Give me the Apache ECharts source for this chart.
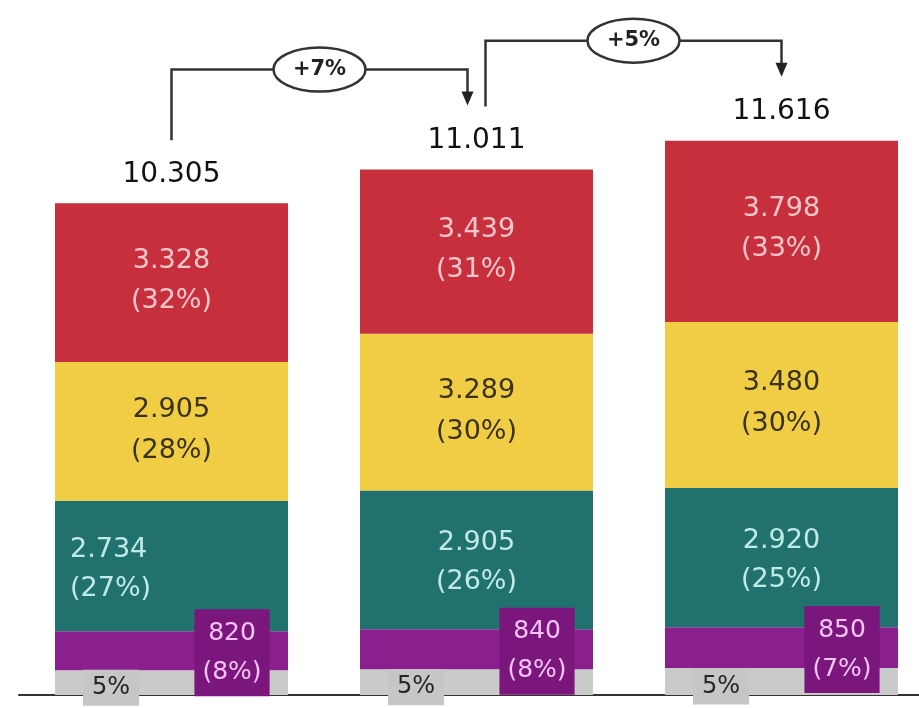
<!DOCTYPE html>
<html><head><meta charset="utf-8">
<script src="https://cdn.jsdelivr.net/npm/echarts@6/dist/echarts.min.js"></script>
<style>html,body{margin:0;padding:0;background:#fff}#c{width:919px;height:708px}</style>
</head><body><div id="c"></div>
<script>
const categories = ['2019', '2020', '2021'];
const gray = [518, 538, 568];
const purple = [820, 840, 850];
const teal = [2734, 2905, 2920];
const yellow = [2905, 3289, 3480];
const red = [3328, 3439, 3798];
const totals = [10305, 11011, 11616];
const grayPct = ['5%', '5%', '5%'];
const purplePct = ['8%', '8%', '7%'];
const tealPct = ['27%', '26%', '25%'];
const yellowPct = ['28%', '30%', '30%'];
const redPct = ['32%', '31%', '33%'];
const growth = ['+7%', '+5%'];

function fmt(n) {
  if (n >= 1000) return Math.floor(n / 1000) + '.' + String(n % 1000).padStart(3, '0');
  return String(n);
}
const FONT = 'DejaVu Sans';
function two(vals, pcts) {
  return p => fmt(vals[p.dataIndex]) + '\n(' + pcts[p.dataIndex] + ')';
}

const chart = echarts.init(document.getElementById('c'), null, { renderer: 'canvas' });
const option = {
  animation: false,
  backgroundColor: '#ffffff',
  grid: { left: 19, width: 915, top: 3, bottom: 13, containLabel: false, outerBoundsMode: 'none' },
  xAxis: {
    type: 'category', data: categories,
    axisLine: { lineStyle: { color: '#333333', width: 2 } },
    axisTick: { show: false }, axisLabel: { show: false }
  },
  yAxis: { type: 'value', min: 0, max: 14500, show: false, splitLine: { show: false } },
  series: [
    {
      name: 'gray', type: 'bar', stack: 't', data: gray, barWidth: 233,
      itemStyle: { color: '#cacaca' },
      label: {
        show: true, position: 'insideLeft', distance: 28, offset: [0, 5],
        formatter: p => grayPct[p.dataIndex],
        backgroundColor: '#c6c6c6', padding: [7, 9, 5, 9],
        color: '#262626', fontSize: 24, fontFamily: FONT
      }
    },
    {
      name: 'purple', type: 'bar', stack: 't', data: purple,
      itemStyle: { color: '#8b1f8d' },
      label: {
        show: true, position: 'insideRight', distance: 56, align: 'center', offset: [0, 2],
        formatter: two(purple, purplePct),
        backgroundColor: '#7b167d', padding: [5, 8, 4, 8],
        color: '#f4c4f4', fontSize: 25, lineHeight: 39, fontFamily: FONT
      }
    },
    {
      name: 'teal', type: 'bar', stack: 't',
      data: teal.map((v, i) => i === 0 ? { value: v, label: { position: 'insideLeft', distance: 15, offset: [0, 4] } } : v),
      itemStyle: { color: '#21716f' },
      label: {
        show: true, position: 'inside', offset: [0, 3],
        formatter: two(teal, tealPct),
        color: '#bfeae6', fontSize: 27, lineHeight: 39, fontFamily: FONT
      }
    },
    {
      name: 'yellow', type: 'bar', stack: 't', data: yellow,
      itemStyle: { color: '#f1cd46' },
      label: {
        show: true, position: 'inside', offset: [0, -1],
        formatter: two(yellow, yellowPct),
        color: '#3a3318', fontSize: 27, lineHeight: 41, fontFamily: FONT
      }
    },
    {
      name: 'red', type: 'bar', stack: 't', data: red,
      itemStyle: { color: '#c72f3d' },
      label: {
        show: true, position: 'inside', offset: [0, -2],
        formatter: two(red, redPct),
        color: '#f6c7ca', fontSize: 27, lineHeight: 40, fontFamily: FONT
      }
    },
    {
      name: 'total', type: 'scatter', data: totals, symbolSize: 1,
      itemStyle: { color: 'rgba(0,0,0,0)' }, z: 5,
      label: {
        show: true, position: 'top', distance: 14,
        formatter: p => fmt(totals[p.dataIndex]),
        color: '#111111', opacity: 1, fontSize: 28, fontFamily: FONT
      }
    }
  ]
};
chart.setOption(option);

const pts = totals.map((v, i) => chart.convertToPixel({ gridIndex: 0 }, [i, v]));
const g = [];
const startOff = [0, 9], endOff = [-9, 0];
for (let k = 0; k < growth.length; k++) {
  const A = pts[k], B = pts[k + 1];
  const sx = A[0] + startOff[k];
  const ex = B[0] + endOff[k];
  const hy = B[1] - 100;
  const tip = B[1] - 64;
  const sy = A[1] - 63;
  g.push({ type: 'polyline', shape: { points: [[sx, sy], [sx, hy], [ex, hy], [ex, tip - 12]] },
    style: { stroke: '#333333', lineWidth: 2.5, fill: null }, z: 10 });
  g.push({ type: 'polygon', shape: { points: [[ex - 6, tip - 14], [ex + 6, tip - 14], [ex, tip]] },
    style: { fill: '#222222' }, z: 10 });
  const cx = (sx + ex) / 2;
  g.push({ type: 'ellipse', shape: { cx: cx, cy: hy, rx: 46, ry: 22 },
    style: { fill: '#ffffff', stroke: '#333333', lineWidth: 2.5 }, z: 11 });
  g.push({ type: 'text', x: cx, y: hy, style: { text: growth[k], fill: '#222222',
    font: 'bold 21px "DejaVu Sans"', align: 'center', verticalAlign: 'middle' }, z: 12 });
}
chart.setOption({ graphic: g });
</script></body></html>
